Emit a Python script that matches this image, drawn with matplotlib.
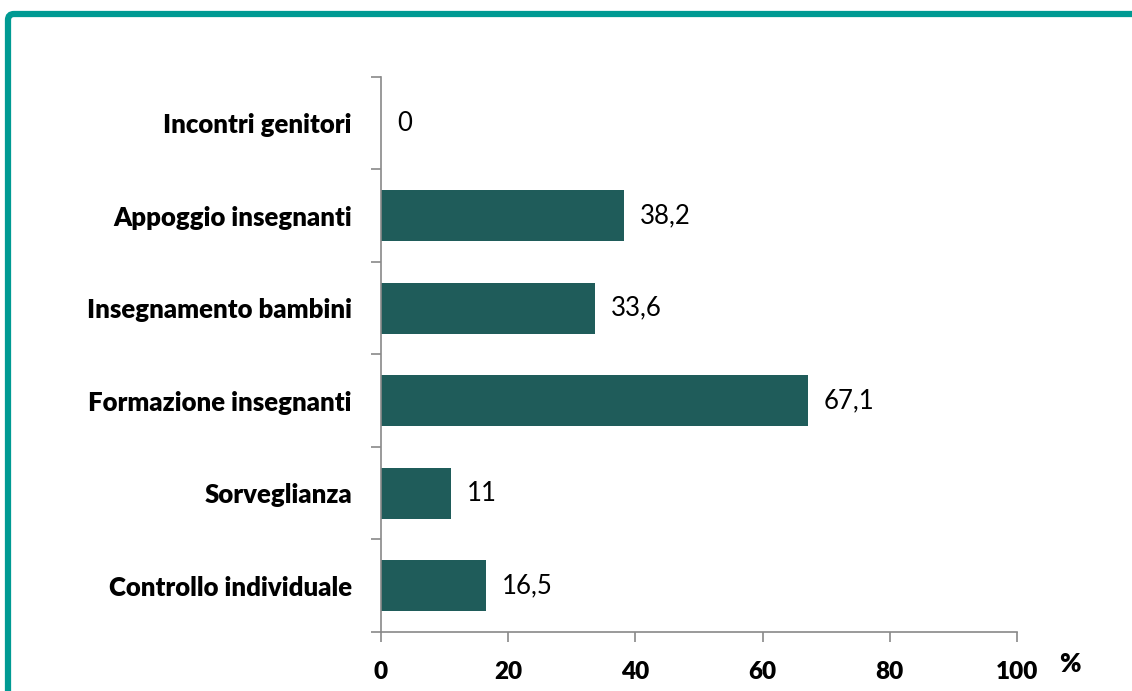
import numpy as np
import matplotlib.pyplot as plt
from matplotlib.patches import FancyBboxPatch

# Data (bottom to top)
categories = ['Controllo individuale', 'Sorveglianza', 'Formazione insegnanti',
              'Insegnamento bambini', 'Appoggio insegnanti', 'Incontri genitori']
values = [16.5, 11, 67.1, 33.6, 38.2, 0]
x_ticks = [0, 20, 40, 60, 80, 100]

plt.rcParams['font.family'] = ['Lato', 'DejaVu Sans']

fig = plt.figure(figsize=(11.32, 6.91), dpi=100)
ax = fig.add_axes([0.3366, 0.0854, 0.5618, 0.8032])

y = np.arange(len(categories))
ax.barh(y, values, height=0.55, color='#1f5c5a', linewidth=0)

# Value labels with comma decimals
for yi, v in zip(y, values):
    txt = ('%g' % v).replace('.', ',')
    ax.annotate(txt, (v, yi), xytext=(11.5, 0), textcoords='offset points',
                ha='left', va='center', fontsize=18.5, color='black')

ax.set_xlim(0, 100)
ax.set_ylim(-0.5, len(categories) - 0.5)
ax.set_xticks(x_ticks)
ax.set_xticklabels([str(t) for t in x_ticks], fontsize=17.5, fontweight='heavy')
ax.set_yticks(y)
ax.set_yticklabels(categories, fontsize=18.5, fontweight='heavy')
ax.set_yticks(np.arange(-0.5, len(categories)), minor=True)
ax.tick_params(axis='y', which='major', length=0, pad=21)
ax.tick_params(axis='y', which='minor', length=7, color='#898989', width=1.2)
ax.tick_params(axis='x', which='major', length=7, color='#898989', width=1.2, pad=14)

for side in ['top', 'right']:
    ax.spines[side].set_visible(False)
for side in ['left', 'bottom']:
    ax.spines[side].set_color('#898989')
    ax.spines[side].set_linewidth(1.2)

fig.text(1070 / 1132, 1 - 664 / 691, '%', fontsize=18.5, fontweight='heavy',
         ha='center', va='center')

# Teal frame around the chart (top and left edges visible)
frame = FancyBboxPatch((0.08, -1.0), 13.0, 6.91 - 0.14 + 1.0,
                       boxstyle='round,pad=0,rounding_size=0.06',
                       transform=fig.dpi_scale_trans, fill=False,
                       edgecolor='#009a93', linewidth=4.5, clip_on=False)
fig.patches.append(frame)

fig.savefig('out.png', dpi=100)
